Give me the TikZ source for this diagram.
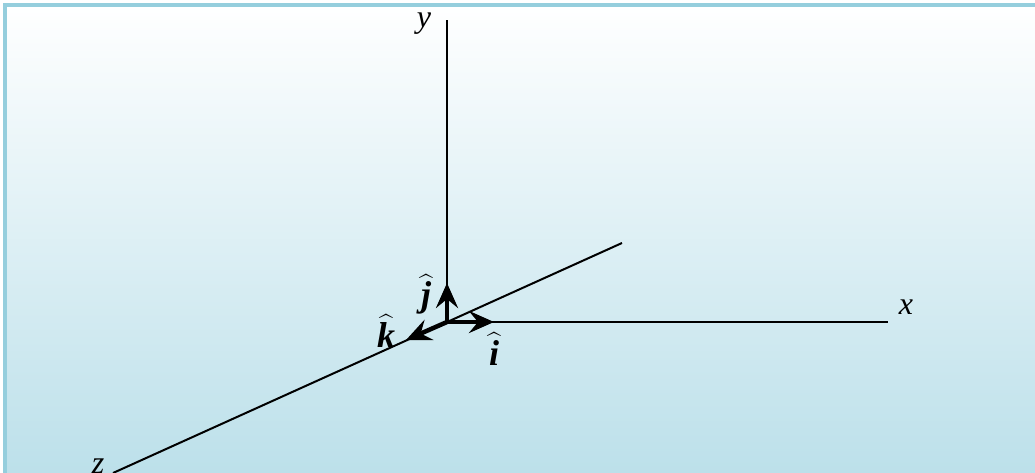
\documentclass[tikz,border=0pt]{standalone}
\usepackage{amsmath}
\usepackage{fontspec}
\setmainfont{Liberation Serif}
\usetikzlibrary{arrows.meta}
\newcommand\uvec[1]{$\boldsymbol{\widehat{\text{\bfseries\itshape #1}}}$}
\begin{document}
\begin{tikzpicture}[x=1pt,y=-1pt,
  axis/.style={line width=2pt, black},
  unitvec/.style={line width=4.5pt, -{Stealth[length=25pt,width=22pt,inset=9pt]}},
  lbl/.style={font=\fontsize{32}{34}\selectfont\itshape, inner sep=0pt},
  vlbl/.style={font=\fontsize{36}{38}\selectfont, inner sep=0pt}]
\useasboundingbox (0,0) rectangle (1035,473);
\definecolor{framec}{HTML}{95CEDD}
\definecolor{bgbot}{HTML}{BCE0EA}
\shade[top color=white, bottom color=bgbot] (5,5) rectangle (1035,473);
\draw[framec, line width=3.5pt] (5,473) -- (5,5) -- (1035,5);
\coordinate (O) at (447,322);
\coordinate (ytop) at (447,20);
\coordinate (xend) at (888,322);
\coordinate (zend) at (113,473);
\coordinate (zback) at (622,243);
\coordinate (itip) at (494,322);
\coordinate (jtip) at (447,283);
\coordinate (ktip) at (406,340);
\draw[axis] (O) -- (ytop);
\draw[axis] (O) -- (xend);
\draw[axis] (zend) -- (zback);
\draw[unitvec] (O) -- (itip);
\draw[unitvec] (O) -- (jtip);
\draw[unitvec] (O) -- (ktip);
\node[lbl] (ly) at (424,24) {y};
\node[lbl] (lx) at (906,307) {x};
\node[lbl] (lz) at (98,466) {z};
\node[vlbl] (lj) at (426,294) {\uvec{j}};
\node[vlbl] (lk) at (386,331) {\uvec{k}};
\node[vlbl] (li) at (494,349) {\uvec{i}};
\end{tikzpicture}
\end{document}
